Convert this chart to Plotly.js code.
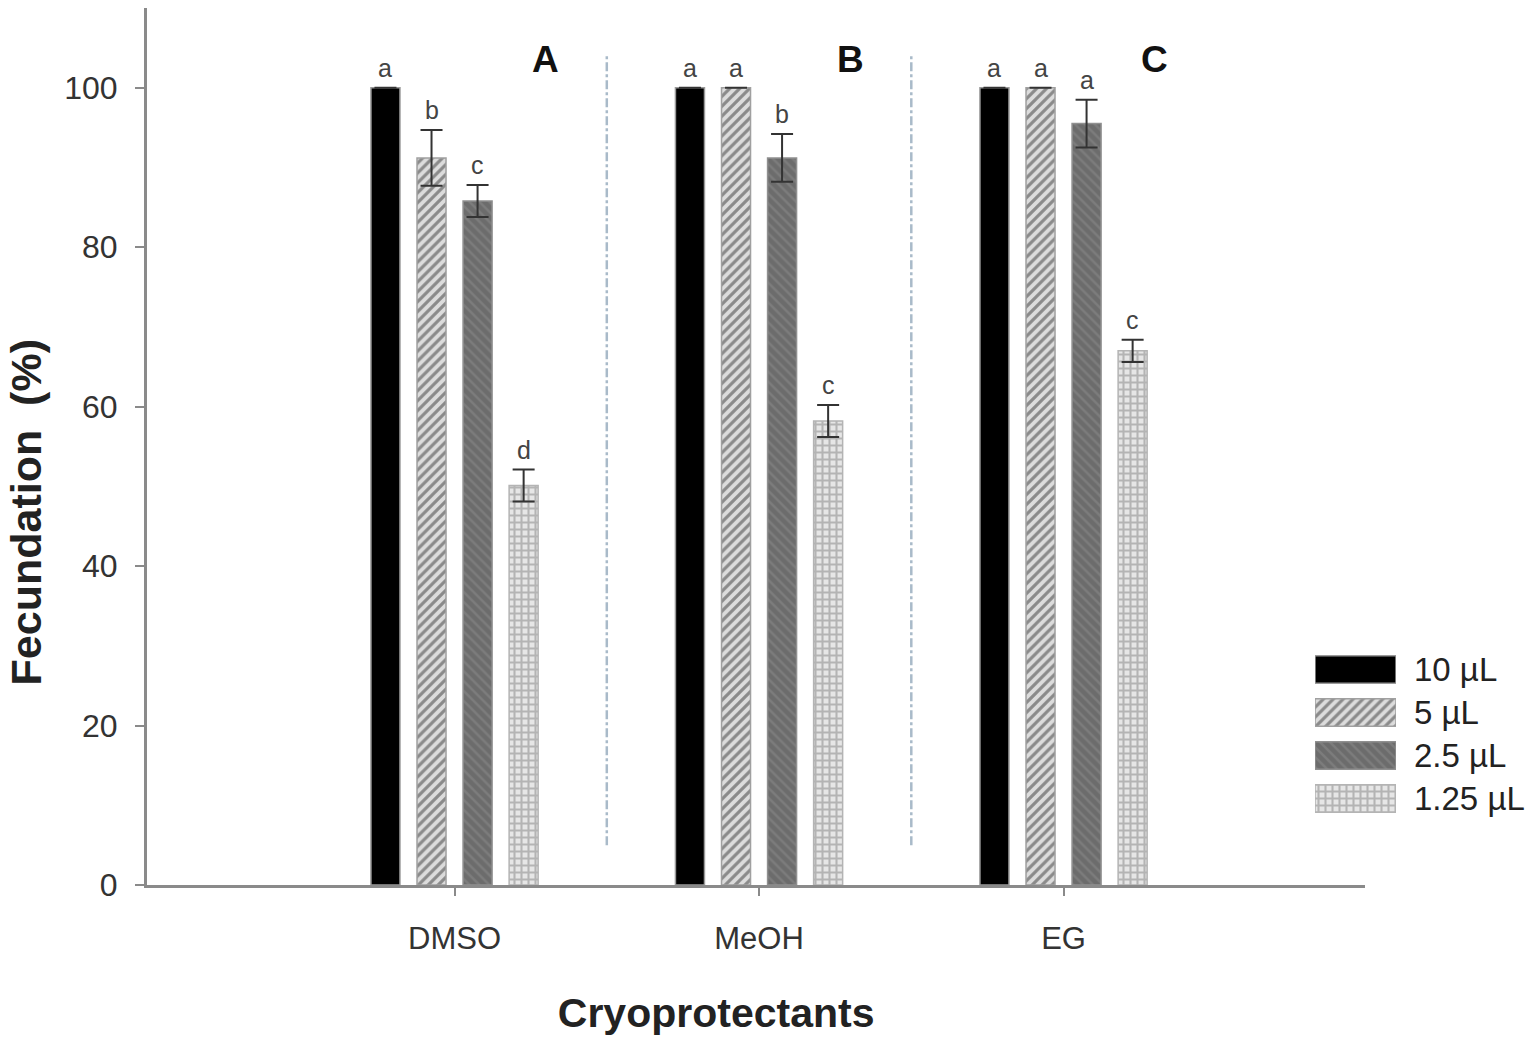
<!DOCTYPE html>
<html>
<head>
<meta charset="utf-8">
<script src="https://cdn.plot.ly/plotly-3.0.1.min.js"></script>
<style>html,body{margin:0;padding:0;background:#fff;}#chart{width:1535px;height:1040px;}</style>
</head>
<body>
<div id="chart"></div>
<script>
// ---- data ----
const categories = ["DMSO", "MeOH", "EG"];
const seriesNames = ["10 µL", "5 µL", "2.5 µL", "1.25 µL"];
const vals10 = [100, 100, 100];
const vals5 = [91.2, 100, 100];
const vals2_5 = [85.8, 91.2, 95.5];
const vals1_25 = [50.1, 58.2, 67.0];
const err10 = [null, null, null];
const err5 = [3.5, null, null];
const err2_5 = [2.0, 3.0, 3.0];
const err1_25 = [2.0, 2.0, 1.4];
const letters10 = ["a", "a", "a"];
const letters5 = ["b", "a", "a"];
const letters2_5 = ["c", "b", "a"];
const letters1_25 = ["d", "c", "c"];
const panelLabels = ["A", "B", "C"];
const yTicks = [0, 20, 40, 60, 80, 100];

// ---- styles ----
const FONT = "Arial, 'Liberation Sans', sans-serif";
const values = [vals10, vals5, vals2_5, vals1_25];
const errors = [err10, err5, err2_5, err1_25];
const letters = [letters10, letters5, letters2_5, letters1_25];
const markers = [
  {color: "#000000", line: {color: "#9a9a9a", width: 1.5}},
  {color: "#d4d4d4", line: {color: "#a0a0a0", width: 1.5},
   pattern: {shape: "/", bgcolor: "#dcdcdc", fgcolor: "#8a8a8a", size: 7, solidity: 0.45}},
  {color: "#6c6c6c", line: {color: "#909090", width: 1.5},
   pattern: {shape: "\\", bgcolor: "#6c6c6c", fgcolor: "#7c7c7c", size: 7, solidity: 0.35}},
  {color: "#e4e4e4", line: {color: "#b4b4b4", width: 1.5},
   pattern: {shape: "+", bgcolor: "#e6e6e6", fgcolor: "#b4b4b4", size: 7, solidity: 0.5}}
];
const bargap = 0.395;
const nS = seriesNames.length;
const slot = (1 - bargap) / nS;

const traces = [];
seriesNames.forEach((name, j) => {
  traces.push({
    type: "bar",
    name: name,
    x: categories,
    y: values[j],
    marker: markers[j],
    error_y: {type: "data", array: errors[j], visible: true, color: "#333", thickness: 2, width: 11},
    showlegend: false,
    hoverinfo: "x+y"
  });
  // legend swatch on an auxiliary axis
  traces.push({
    type: "bar",
    orientation: "h",
    x: [1],
    y: [name],
    width: 0.64,
    xaxis: "x2",
    yaxis: "y2",
    marker: markers[j],
    showlegend: false,
    hoverinfo: "skip"
  });
});

const annotations = [];
categories.forEach((c, i) => {
  seriesNames.forEach((s, j) => {
    const off = -(1 - bargap) / 2 + slot * (j + 0.5);
    const top = values[j][i] + (errors[j][i] || 0);
    annotations.push({
      x: i + off, y: top, xref: "x", yref: "y",
      text: letters[j][i], showarrow: false,
      yanchor: "bottom", yshift: 4,
      font: {family: FONT, size: 25, color: "#444"}
    });
  });
  annotations.push({
    x: i + 0.3, y: 103.5, xref: "x", yref: "y",
    text: "<b>" + panelLabels[i] + "</b>", showarrow: false,
    font: {family: FONT, size: 37, color: "#111"}
  });
});

const shapes = [];
for (let i = 0; i < categories.length - 1; i++) {
  shapes.push({
    type: "line", xref: "x", yref: "y",
    x0: i + 0.5, x1: i + 0.5, y0: 5, y1: 104,
    line: {color: "#a9bac9", width: 2.5, dash: "dashdot"}
  });
}

const pad = n => "&nbsp;".repeat(n);
const plotW = 1535 - 147 - 5;
const mainRight = (1365 - 147) / plotW;
const layout = {
  width: 1535, height: 1040,
  margin: {l: 147, r: 5, t: 8, b: 155},
  paper_bgcolor: "#fff", plot_bgcolor: "rgba(0,0,0,0)",
  barmode: "group", bargap: bargap, bargroupgap: 0.37,
  showlegend: false,
  font: {family: FONT, color: "#333"},
  xaxis: {
    type: "category", domain: [0, mainRight], range: [-1.01, 2.99],
    showline: true, linecolor: "#8a8a8a", linewidth: 3,
    ticks: "outside", ticklen: 8, tickwidth: 2, tickcolor: "#8a8a8a",
    tickfont: {family: FONT, size: 31, color: "#333"},
    ticklabelstandoff: 16,
    showgrid: false, zeroline: false, fixedrange: true,
    title: {text: "<b>Cryoprotectants" + pad(7) + "</b>", font: {family: FONT, size: 41, color: "#222"}, standoff: 44}
  },
  yaxis: {
    range: [0, 110], tickvals: yTicks,
    showline: true, linecolor: "#8a8a8a", linewidth: 3,
    ticks: "outside", ticklen: 9, tickwidth: 2, tickcolor: "#8a8a8a",
    tickfont: {family: FONT, size: 32, color: "#333"},
    ticklabelstandoff: 11,
    showgrid: false, zeroline: false, fixedrange: true,
    title: {text: "<b>Fecundation" + pad(2) + "(%)" + pad(11) + "</b>", font: {family: FONT, size: 43, color: "#222"}, standoff: 10}
  },
  xaxis2: {
    domain: [(1315 - 147) / plotW, (1396 - 147) / plotW], anchor: "y2",
    range: [0, 1], visible: false, fixedrange: true
  },
  yaxis2: {
    domain: [(885 - 820) / 877, (885 - 648) / 877], anchor: "x2",
    type: "category", autorange: "reversed", side: "right",
    showline: false, ticks: "", showgrid: false, zeroline: false,
    tickfont: {family: FONT, size: 33, color: "#222"},
    ticklabelstandoff: 17, fixedrange: true
  },
  annotations: annotations,
  shapes: shapes
};

Plotly.newPlot("chart", traces, layout, {displayModeBar: false, staticPlot: true});
</script>
</body>
</html>
